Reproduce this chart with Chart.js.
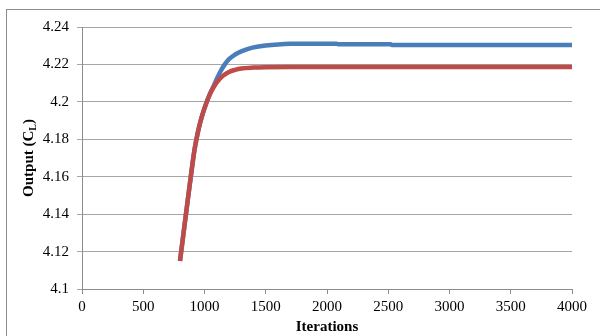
<!DOCTYPE html>
<html>
<head>
<meta charset="utf-8">
<script src="https://cdn.jsdelivr.net/npm/chart.js@4.4.1/dist/chart.umd.min.js"></script>
<style>
    html, body { margin: 0; padding: 0; background: #fff; }
    #wrap { position: relative; width: 600px; height: 336px; overflow: hidden; }
    #frame { position: absolute; left: 6px; top: 9px; width: 700px; height: 400px;
             border-top: 1px solid #8c8c8c; border-left: 1px solid #8c8c8c; }
    #chart { position: absolute; left: 0; top: 0; }
</style>
</head>
<body>
<div id="wrap">
    <div id="frame"></div>
    <canvas id="chart" width="600" height="336"></canvas>
</div>
<script>
// red series (lower plateau)
const redIterations = [800, 830, 860, 890, 920, 950, 980, 1010, 1040, 1070, 1100, 1150, 1200, 1250, 1300, 1400, 1500, 1700, 2500, 3000, 3500, 4000];
const redValues = [4.1150, 4.1305, 4.1458, 4.1610, 4.1750, 4.1850, 4.1925, 4.1985, 4.2035, 4.2073, 4.2104, 4.2139, 4.2160, 4.2171, 4.2178, 4.2183, 4.2185, 4.2186, 4.2186, 4.2186, 4.2186, 4.2186];

// blue series (upper plateau)
const blueIterations = [800, 830, 860, 890, 920, 950, 980, 1010, 1040, 1070, 1100, 1130, 1160, 1200, 1250, 1300, 1350, 1400, 1500, 1600, 1700, 2080, 2090, 2520, 2530, 3000, 3500, 4000];
const blueValues = [4.1150, 4.1305, 4.1458, 4.1610, 4.1750, 4.1850, 4.1925, 4.1985, 4.2036, 4.2078, 4.2122, 4.2162, 4.2195, 4.2228, 4.2253, 4.2270, 4.2282, 4.2291, 4.2301, 4.2307, 4.2310, 4.2311, 4.2308, 4.2308, 4.2304, 4.2304, 4.2304, 4.2304];

const xTicks = [0, 500, 1000, 1500, 2000, 2500, 3000, 3500, 4000];
const yTicks = [4.1, 4.12, 4.14, 4.16, 4.18, 4.2, 4.22, 4.24];

const FONT = "'Liberation Serif', 'Times New Roman', serif";

function toPoints(xs, ys) {
    return xs.map((x, i) => ({ x, y: ys[i] }));
}

// y title with subscript L
const yTitlePlugin = {
    id: "yTitle",
    afterDraw(chart) {
        const { ctx, chartArea } = chart;
        const cy = (chartArea.top + chartArea.bottom) / 2;
        ctx.save();
        ctx.translate(29, cy);
        ctx.rotate(-Math.PI / 2);
        ctx.fillStyle = "#000";
        ctx.textBaseline = "middle";
        const a = "Output (C", c = ")";
        ctx.font = "bold 15px " + FONT;
        const wa = ctx.measureText(a).width;
        const wc = ctx.measureText(c).width;
        ctx.font = "bold 10px " + FONT;
        const wb = ctx.measureText("L").width;
        let x = -(wa + wb + wc) / 2;
        ctx.font = "bold 15px " + FONT;
        ctx.fillText(a, x, 0);
        x += wa;
        ctx.font = "bold 10px " + FONT;
        ctx.fillText("L", x, 4);
        x += wb;
        ctx.font = "bold 15px " + FONT;
        ctx.fillText(c, x, 0);
        ctx.restore();
    }
};

new Chart(document.getElementById("chart"), {
    type: "line",
    data: {
        datasets: [
            {
                label: "Red",
                data: toPoints(redIterations, redValues),
                borderColor: "#be4b48",
                borderWidth: 4.5,
                pointRadius: 0,
                cubicInterpolationMode: "monotone",
                fill: false
            },
            {
                label: "Blue",
                data: toPoints(blueIterations, blueValues),
                borderColor: "#4a7ebb",
                borderWidth: 4.5,
                pointRadius: 0,
                cubicInterpolationMode: "monotone",
                fill: false
            }
        ]
    },
    options: {
        responsive: false,
        animation: false,
        layout: { padding: { top: 27, right: 28, left: 0, bottom: 0 } },
        plugins: { legend: { display: false }, tooltip: { enabled: false } },
        scales: {
            x: {
                type: "linear",
                min: 0,
                max: 4000,
                afterFit: s => { s.height = 47; },
                afterBuildTicks: s => { s.ticks = xTicks.map(v => ({ value: v })); },
                grid: { drawOnChartArea: false, drawTicks: true, tickLength: 5, color: "#8c8c8c" },
                border: { color: "#8c8c8c" },
                ticks: {
                    color: "#000",
                    padding: 4,
                    maxRotation: 0,
                    font: { family: FONT, size: 15 },
                    callback: v => String(v)
                },
                title: {
                    display: true,
                    text: "Iterations",
                    color: "#000",
                    padding: { top: 0, bottom: 0 },
                    font: { family: FONT, size: 15, weight: "bold" }
                }
            },
            y: {
                min: 4.1,
                max: 4.24,
                afterFit: s => { s.width = 82; },
                afterBuildTicks: s => { s.ticks = yTicks.map(v => ({ value: v })); },
                grid: { color: "#a6a6a6", tickLength: 5 },
                border: { color: "#8c8c8c" },
                ticks: {
                    color: "#000",
                    padding: 8,
                    font: { family: FONT, size: 15 },
                    callback: v => String(Number(v.toFixed(2)))
                }
            }
        }
    },
    plugins: [yTitlePlugin]
});
</script>
</body>
</html>
